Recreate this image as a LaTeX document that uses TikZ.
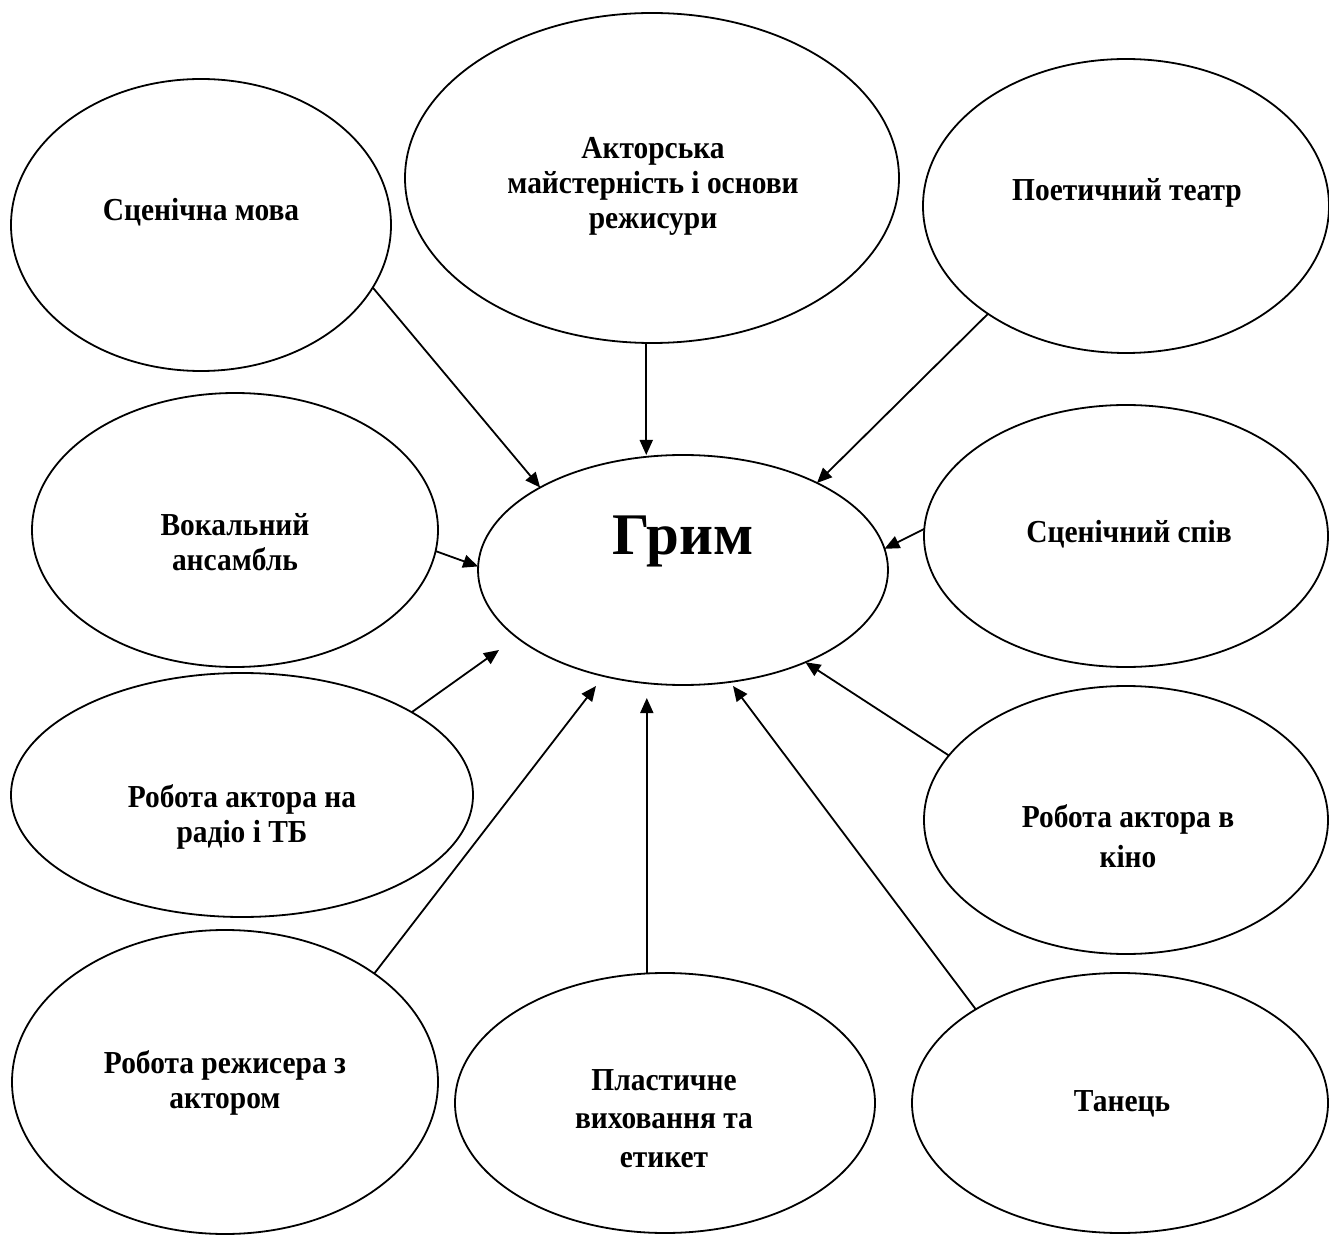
\documentclass[tikz,border=0pt]{standalone}
\usepackage{fontspec}
\setmainfont{Liberation Serif}
\newfontfamily\lblfont[FakeStretch=0.92]{Liberation Serif}
\usetikzlibrary{shapes.geometric,arrows.meta}
\tikzset{
  ell/.style 2 args={ellipse,draw,line width=0.9pt,inner sep=0pt,outer sep=0pt,minimum width=#1pt,minimum height=#2pt},
  lbl/.style={font=\lblfont\fontsize{16}{17.5}\selectfont\bfseries,align=center,anchor=base,inner sep=0pt},
  arr/.style={line width=0.9pt,-{Triangle[length=7.5pt,width=6.5pt]}}
}
\begin{document}
\begin{tikzpicture}[x=0.5pt,y=-0.5pt]
\useasboundingbox (0,0) rectangle (1329,1235);
% ellipses
\node[ell={190}{146}] (mova)  at (201,225)  {};
\node[ell={247}{165}] (aktor) at (652,178)  {};
\node[ell={203}{147}] (poet)  at (1126,206) {};
\node[ell={203}{137}] (vokal) at (235,530)  {};
\node[ell={205}{115}] (grim)  at (683,570)  {};
\node[ell={202}{131}] (spiv)  at (1126,536) {};
\node[ell={231}{122}] (radio) at (242,795)  {};
\node[ell={202}{134}] (kino)  at (1126,820) {};
\node[ell={213}{152}] (rezh)  at (225,1082) {};
\node[ell={210}{130}] (plast) at (665,1103) {};
\node[ell={208}{130}] (tanec) at (1120,1103) {};
% texts (anchor = baseline of the last line)
\node[lbl] (movaT)  at (201,221)  {Сценічна мова};
\node[lbl] (aktorT) at (653,229)  {Акторська\\майстерність і основи\\режисури};
\node[lbl] (poetT)  at (1127,201) {Поетичний театр};
\node[lbl] (vokalT) at (235,571)  {Вокальний\\ансамбль};
\node[lbl,font=\fontsize{29.5}{32}\selectfont\bfseries] (grimT) at (683,555) {Грим};
\node[lbl] (spivT)  at (1129,543) {Сценічний спів};
\node[lbl] (radioT) at (242,842)  {Робота актора на\\радіо і ТБ};
\node[lbl,font=\lblfont\fontsize{16}{20}\selectfont\bfseries] (kinoT) at (1128,867) {Робота актора в\\кіно};
\node[lbl] (rezhT)  at (225,1108) {Робота режисера з\\актором};
\node[lbl,font=\lblfont\fontsize{16}{19.25}\selectfont\bfseries] (plastT) at (664,1167) {Пластичне\\виховання та\\етикет};
\node[lbl] (tanecT) at (1122,1111) {Танець};
% free arrow ends
\coordinate (radioTip) at (499,650);
\coordinate (rezhTip)  at (596,686);
\coordinate (tanecTip) at (733,686);
% connectors
\draw[arr] (mova.-20.8) -- (grim.150.4);
\draw[arr] (aktor.-92) -- (aktor.-92 |- grim.north);
\draw[arr] (poet.218.7) -- (grim.33);
\draw[arr] (spiv.178.3) -- (grim.6.9);
\draw[arr] (vokal.-6.2) -- (grim.179);
\draw[arr] (radio.26.7) -- (radioTip);
\draw[arr] (rezh.36.3) -- (rezhTip);
\draw[arr,shorten >=6.5pt] (plast.98) -- (plast.98 |- grim.south);
\draw[arr] (tanec.147) -- (tanecTip);
\draw[arr] (kino.160.6) -- (grim.-37.8);
\end{tikzpicture}
\end{document}
